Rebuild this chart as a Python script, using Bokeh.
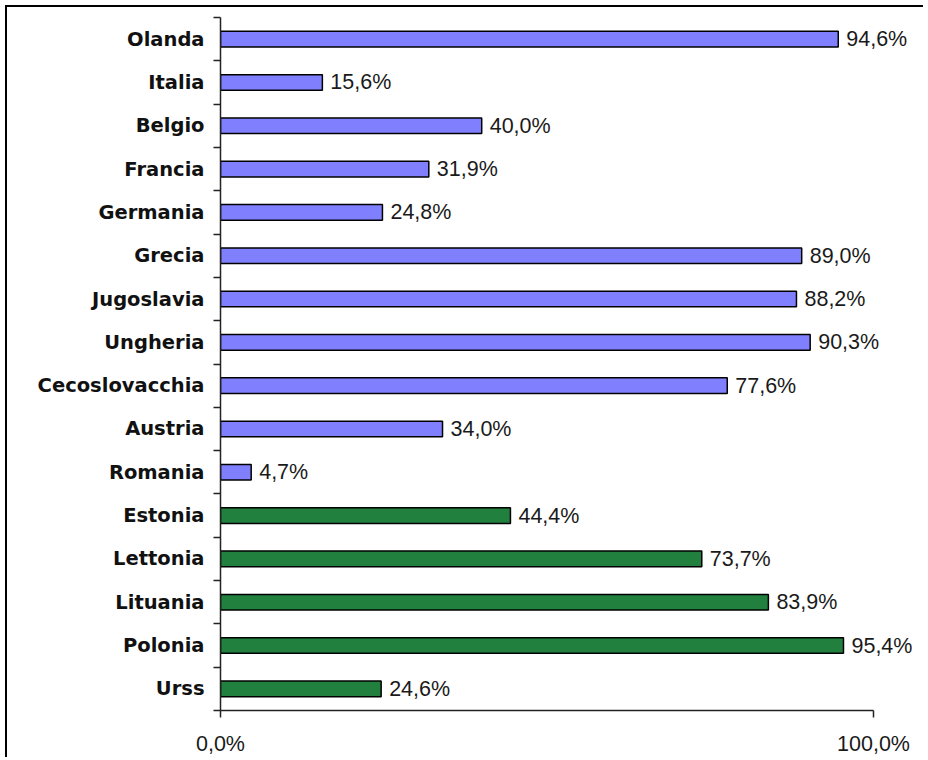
from bokeh.plotting import figure
from bokeh.models import Range1d, FixedTicker, LinearAxis, ColumnDataSource
from bokeh.core.properties import value
from bokeh.embed import file_html
from bokeh.resources import INLINE

# ---- data (top to bottom as in the chart) ----
categories = ["Olanda", "Italia", "Belgio", "Francia", "Germania", "Grecia",
              "Jugoslavia", "Ungheria", "Cecoslovacchia", "Austria", "Romania",
              "Estonia", "Lettonia", "Lituania", "Polonia", "Urss"]
percent = [94.6, 15.6, 40.0, 31.9, 24.8, 89.0, 88.2, 90.3, 77.6, 34.0, 4.7,
           44.4, 73.7, 83.9, 95.4, 24.6]
groups = ["A"] * 11 + ["B"] * 5
x_tick_values = [0.0, 1.0]
x_tick_labels = ["0,0%", "100,0%"]

group_colors = {"A": "#8080FF", "B": "#22803F"}

n = len(categories)
ys = [n - i - 0.5 for i in range(n)]
fracs = [v / 100.0 for v in percent]
labels = [f"{v:.1f}%".replace(".", ",") for v in percent]
colors = [group_colors[g] for g in groups]

src = ColumnDataSource(dict(y=ys, right=fracs, label=labels, color=colors))

p = figure(width=918, height=752, output_backend="svg", toolbar_location=None,
           x_range=Range1d(0, 1.0796), y_range=Range1d(0, n),
           min_border_left=213, min_border_top=10, min_border_bottom=49,
           min_border_right=0, y_axis_location=None, x_axis_location=None)
p.styles = {"border-left": "2px solid black", "border-top": "2px solid black",
            "margin-left": "5px", "margin-top": "5px"}
p.outline_line_color = None
p.xgrid.visible = False
p.ygrid.visible = False
p.background_fill_color = "white"
p.border_fill_color = "white"

p.hbar(y="y", left=0, right="right", height=0.36, source=src,
       fill_color="color", line_color="black", line_width=1.5)

p.text(x="right", y="y", text="label", source=src, x_offset=8,
       text_align="left", text_baseline="middle",
       text_font=value("Liberation Sans"), text_font_size="21.5px",
       text_color="#1a1a1a")

# x axis
xa = LinearAxis(ticker=FixedTicker(ticks=x_tick_values), bounds=(0, 1))
xa.major_label_overrides = {t: l for t, l in zip(x_tick_values, x_tick_labels)}
xa.major_tick_in = 0
xa.major_tick_out = 7
xa.minor_tick_line_color = None
xa.axis_line_color = "#222222"
xa.major_tick_line_color = "#222222"
xa.axis_line_width = 1.5
xa.major_tick_line_width = 1.5
xa.major_label_standoff = 14
xa.major_label_text_font = "Liberation Sans"
xa.major_label_text_font_size = "21.5px"
xa.major_label_text_color = "#1a1a1a"
p.add_layout(xa, "below")

# y axis: ticks at category boundaries
boundaries = list(range(0, n + 1))
ya_ticks = LinearAxis(ticker=FixedTicker(ticks=boundaries))
ya_ticks.major_label_overrides = {b: "" for b in boundaries}
ya_ticks.major_label_text_font_size = "1px"
ya_ticks.major_label_standoff = 0
ya_ticks.major_tick_in = 0
ya_ticks.major_tick_out = 7
ya_ticks.minor_tick_line_color = None
ya_ticks.axis_line_color = "#222222"
ya_ticks.major_tick_line_color = "#222222"
ya_ticks.axis_line_width = 1.5
ya_ticks.major_tick_line_width = 1.5
p.add_layout(ya_ticks, "left")

# y axis: category names at band centres
ya_lab = LinearAxis(ticker=FixedTicker(ticks=ys))
ya_lab.major_label_overrides = {y: c for y, c in zip(ys, categories)}
ya_lab.axis_line_color = None
ya_lab.major_tick_line_color = None
ya_lab.minor_tick_line_color = None
ya_lab.major_tick_in = 0
ya_lab.major_tick_out = 0
ya_lab.major_label_standoff = 9
ya_lab.major_label_text_font = "DejaVu Sans"
ya_lab.major_label_text_font_style = "bold"
ya_lab.major_label_text_font_size = "19.5px"
ya_lab.major_label_text_color = "#111111"
p.add_layout(ya_lab, "left")

open("out.html", "w").write(file_html(p, INLINE))
